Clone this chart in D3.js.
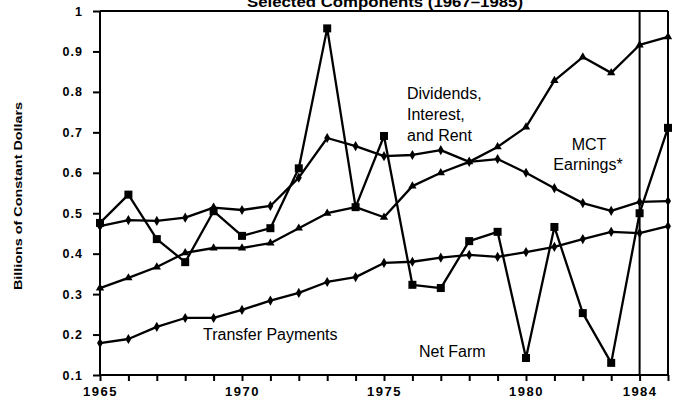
<!DOCTYPE html>
<html>
<head>
<meta charset="utf-8">
<script src="https://cdn.jsdelivr.net/npm/d3@7"></script>
<style>
  html, body { margin: 0; padding: 0; background: #fff; }
  svg { display: block; }
  text { font-family: "Liberation Sans", Arial, Helvetica, sans-serif; fill: #000; }
</style>
</head>
<body>
<svg id="chart" width="679" height="402"></svg>
<script>
const years = d3.range(1965, 1986);
const netFarm = [0.476, 0.546, 0.436, 0.379, 0.505, 0.444, 0.463, 0.611, 0.957, 0.515, 0.691,
                 0.323, 0.315, 0.431, 0.454, 0.142, 0.466, 0.253, 0.130, 0.500, 0.711];
const mctEarnings = [0.468, 0.483, 0.481, 0.489, 0.514, 0.508, 0.518, 0.588, 0.686, 0.666, 0.641,
                     0.644, 0.656, 0.627, 0.634, 0.600, 0.562, 0.525, 0.506, 0.528, 0.530];
const dividends = [0.315, 0.340, 0.367, 0.402, 0.414, 0.414, 0.426, 0.463, 0.500, 0.515, 0.490,
                   0.567, 0.600, 0.627, 0.664, 0.713, 0.828, 0.886, 0.847, 0.916, 0.936];
const transfer = [0.179, 0.189, 0.219, 0.241, 0.241, 0.261, 0.284, 0.303, 0.330, 0.342, 0.377,
                  0.380, 0.390, 0.397, 0.392, 0.404, 0.417, 0.436, 0.454, 0.451, 0.468];
const yTicks = [0.1, 0.2, 0.3, 0.4, 0.5, 0.6, 0.7, 0.8, 0.9, 1];
const xTickLabels = [1965, 1970, 1975, 1980, 1984];
const titleText = "Selected Components (1967\u20131985)";
const yAxisTitle = "Billions of Constant Dollars";

const svg = d3.select("#chart");
const x = d3.scaleLinear().domain([1965, 1985]).range([100, 668]);
const y = d3.scaleLinear().domain([0.1, 1]).range([375, 11]);

// Title (partially cut at top, as in the reference)
svg.append("text").attr("x", 247).attr("y", 7)
  .attr("font-size", 14).attr("font-weight", "bold")
  .attr("textLength", 276).attr("lengthAdjust", "spacingAndGlyphs")
  .text(titleText);

// Frame: top line, right line, 1984 vertical line
svg.append("line").attr("x1", x(1965)).attr("x2", x(1985)).attr("y1", y(1)).attr("y2", y(1))
  .attr("stroke", "#000").attr("stroke-width", 2);
svg.append("line").attr("x1", x(1985)).attr("x2", x(1985)).attr("y1", y(1)).attr("y2", y(0.1))
  .attr("stroke", "#000").attr("stroke-width", 2);
svg.append("line").attr("x1", x(1984)).attr("x2", x(1984)).attr("y1", y(1)).attr("y2", y(0.1))
  .attr("stroke", "#000").attr("stroke-width", 2);

// Axes
const xAxis = d3.axisBottom(x).tickValues(years).tickSize(6)
  .tickFormat(d => xTickLabels.includes(d) ? String(d) : "");
const gx = svg.append("g").attr("transform", `translate(0,${y(0.1)})`).call(xAxis);
gx.select(".domain").attr("stroke-width", 2).attr("d", `M${x(1965)},0H${x(1985)}`);
gx.selectAll(".tick line").attr("stroke-width", 2);
gx.selectAll(".tick text").attr("font-size", 13).attr("font-weight", 900)
  .attr("letter-spacing", 1.5).attr("dy", "0.95em")
  .style("font-family", "'Liberation Sans', Arial, sans-serif");

const yAxis = d3.axisLeft(y).tickValues(yTicks).tickSize(7)
  .tickFormat(d => d === 1 ? "1" : d3.format(".1f")(d));
const gy = svg.append("g").attr("transform", `translate(${x(1965)},0)`).call(yAxis);
gy.select(".domain").attr("stroke-width", 2).attr("d", `M0,${y(0.1)}V${y(1)}`);
gy.selectAll(".tick line").attr("stroke-width", 2);
gy.selectAll(".tick text").attr("font-size", 12.5).attr("font-weight", 900)
  .attr("letter-spacing", 1).attr("x", -17)
  .style("font-family", "'Liberation Sans', Arial, sans-serif");

// Y axis title
svg.append("text")
  .attr("transform", `translate(22,196) rotate(-90)`)
  .attr("text-anchor", "middle")
  .attr("font-size", 11).attr("font-weight", 900)
  .attr("textLength", 188).attr("lengthAdjust", "spacingAndGlyphs")
  .text(yAxisTitle);

const line = d3.line().x((d, i) => x(years[i])).y(d => y(d));

function drawSeries(values, marker) {
  svg.append("path").datum(values).attr("d", line)
    .attr("fill", "none").attr("stroke", "#000").attr("stroke-width", 2.3)
    .attr("stroke-linejoin", "round");
  const g = svg.append("g");
  if (marker === "square") {
    g.selectAll("rect").data(values).join("rect")
      .attr("x", (d, i) => x(years[i]) - 4).attr("y", d => y(d) - 4)
      .attr("width", 8).attr("height", 8).attr("fill", "#000");
  } else {
    const sym = d3.symbol().type(marker === "triangle" ? d3.symbolTriangle : d3.symbolDiamond).size(30);
    g.selectAll("path").data(values).join("path")
      .attr("transform", (d, i) => `translate(${x(years[i])},${y(d)})`)
      .attr("d", sym).attr("fill", "#000");
  }
}

drawSeries(transfer, "diamond");
drawSeries(dividends, "triangle");
drawSeries(mctEarnings, "diamond");
drawSeries(netFarm, "square");

// Series labels
const lab = (tx, ty, t, anchor) => svg.append("text").attr("x", tx).attr("y", ty)
  .attr("font-size", 16).attr("text-anchor", anchor || "start").text(t);
lab(407, 99, "Dividends,");
lab(407, 120, "Interest,");
lab(407, 141, "and Rent");
lab(589, 150, "MCT", "middle");
lab(588, 170, "Earnings*", "middle");
lab(203, 340, "Transfer Payments");
lab(419, 357, "Net Farm");
</script>
</body>
</html>
